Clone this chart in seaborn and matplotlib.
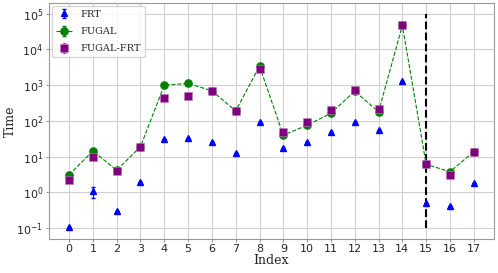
import numpy as np
import matplotlib
matplotlib.use('Agg')
import matplotlib.pyplot as plt
import seaborn as sns

sns.set_style('whitegrid')

# Data
index = np.arange(18)
frt = [0.105, 1.07, 0.30, 1.9, 31, 33, 26, 12.7, 93, 18, 25, 48, 93, 57, 1270, 0.50, 0.41, 1.78]
frt_err = [0, 0.38, 0, 0, 0, 0, 0, 0, 0, 0, 0, 0, 0, 0, 0, 0, 0, 0]
fugal = [3.1, 14.4, 4.2, 19, 1000, 1120, 700, 190, 3400, 40, 76, 164, 680, 180, 47000, 6.1, 3.8, 13.8]
fugal_err = [0.3, 1.0, 0, 0, 0, 0, 0, 0, 0, 0, 0, 0, 0, 0, 0, 0, 0, 0]
fugal_frt = [2.2, 9.8, 4.1, 19, 450, 500, 700, 190, 2800, 49, 93, 200, 720, 222, 47000, 6.1, 3.05, 13.8]
fugal_frt_err = [0.2, 0.8, 0, 0, 0, 0, 0, 0, 0, 0, 0, 0, 0, 0, 0, 0, 0, 0]
split_at = 15

plt.rcParams['axes.edgecolor'] = '#999999'
plt.rcParams['grid.color'] = '#d0d0d0'

fig = plt.figure(figsize=(4.98, 2.73), dpi=100)
ax = fig.add_axes([0.098, 0.125, 0.894, 0.864])

ax.errorbar(index, frt, yerr=frt_err, fmt='^', color='blue', markersize=3.8,
            capsize=1.5, elinewidth=0.8, label='FRT')
ax.errorbar(index, fugal, yerr=fugal_err, fmt='o--', color='green', markersize=5.2,
            linewidth=0.8, capsize=1.5, elinewidth=0.8, label='FUGAL')
ax.errorbar(index, fugal_frt, yerr=fugal_frt_err, fmt='s', color='purple', markersize=5.8,
            markeredgecolor='#c080c0', markeredgewidth=0.4,
            capsize=1.5, elinewidth=0.8, label='FUGAL-FRT')

ax.vlines(split_at, 0.1, 1e5, colors='black', linestyles='--', linewidth=1.5)

ax.set_yscale('log')
ax.set_xticks(index)
ax.tick_params(axis='both', labelsize=8, length=2, pad=2, left=True, bottom=True,
               color='#999999')
ax.tick_params(axis='y', which='minor', left=False)
ax.set_xlabel('Index', family='DejaVu Serif', fontsize=9, labelpad=0)
ax.set_ylabel('Time', family='DejaVu Serif', fontsize=9)
ax.yaxis.set_label_coords(-0.072, 0.5)

ax.legend(loc='upper left', prop={'family': 'DejaVu Serif', 'size': 7}, handlelength=1.8,
          labelspacing=0.85, borderaxespad=0.3)

fig.savefig('out.png', dpi=100)
